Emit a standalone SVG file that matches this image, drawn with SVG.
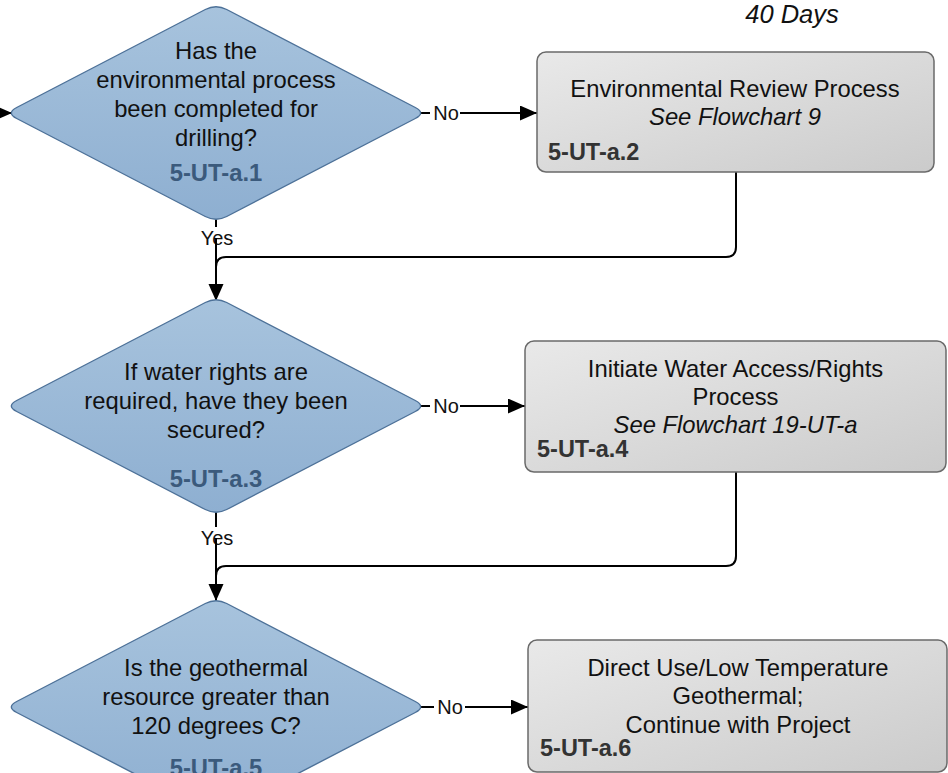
<svg xmlns="http://www.w3.org/2000/svg" width="948" height="773" viewBox="0 0 948 773">
<style>
text{font-family:"Liberation Sans",Arial,sans-serif}
.dt{font-size:23.8px;fill:#111;text-anchor:middle}
.did{font-size:23.8px;font-weight:bold;fill:#3b5a7c;text-anchor:middle}
.bt{font-size:23.8px;fill:#111;text-anchor:middle}
.bi{font-style:italic}
.bid{font-size:23.5px;font-weight:bold;fill:#333}
.lbl{font-size:20px;fill:#111;text-anchor:middle}
.dia{fill:url(#dg);stroke:#4d7198;stroke-width:1.4}
.box{fill:url(#bg);stroke:#6a6a6a;stroke-width:1.5}
.con{fill:none;stroke:#000;stroke-width:2}
</style>
<defs>
<linearGradient id="dg" x1="0" y1="0" x2="0" y2="1">
<stop offset="0" stop-color="#a7c3dd"/>
<stop offset="1" stop-color="#8eafd1"/>
</linearGradient>
<linearGradient id="bg" x1="0" y1="0" x2="1" y2="1">
<stop offset="0" stop-color="#e9e9e9"/>
<stop offset="1" stop-color="#cbcbcb"/>
</linearGradient>
<path id="dshape" d="M-199.3,-5.5 L-10.7,-103.5 Q0,-109 10.7,-103.5 L199.3,-5.5 Q210,0 199.3,5.5 L10.7,103.5 Q0,109 -10.7,103.5 L-199.3,5.5 Q-210,0 -199.3,-5.5 Z"/>
<marker id="ah" markerUnits="userSpaceOnUse" markerWidth="20" markerHeight="16" refX="17" refY="7.5" orient="auto">
<path d="M0,0 L17,7.5 L0,15 Z" fill="#000"/>
</marker>
</defs>

<text x="792" y="23" style="font-size:25.5px;font-style:italic;fill:#111;text-anchor:middle">40 Days</text>

<g id="connectors">
<path class="con" d="M0,113 H12" marker-end="url(#ah)"/>
<path class="con" d="M421,113 H430"/>
<path class="con" d="M460,113 H537" marker-end="url(#ah)"/>
<text class="lbl" x="446" y="120">No</text>
<path class="con" d="M216,219 V227"/>
<text class="lbl" x="217" y="245">Yes</text>
<path class="con" d="M216,238 V301" marker-end="url(#ah)"/>
<path class="con" d="M736,172 V247 Q736,257 726,257 H226 Q216,257 216,267"/>

<path class="con" d="M421,406 H430"/>
<path class="con" d="M460,406 H525" marker-end="url(#ah)"/>
<text class="lbl" x="446" y="413">No</text>
<path class="con" d="M216,511 V527"/>
<text class="lbl" x="217" y="545">Yes</text>
<path class="con" d="M216,538 V601" marker-end="url(#ah)"/>
<path class="con" d="M736,472 V556 Q736,566 726,566 H226 Q216,566 216,576"/>

<path class="con" d="M421,707 H434"/>
<path class="con" d="M465,707 H528" marker-end="url(#ah)"/>
<text class="lbl" x="450" y="714">No</text>
</g>

<g id="d1">
<use href="#dshape" x="216" y="113" class="dia"/>
<text class="dt" x="216" y="59">Has the</text>
<text class="dt" x="216" y="88">environmental process</text>
<text class="dt" x="216" y="117">been completed for</text>
<text class="dt" x="216" y="146">drilling?</text>
<text class="did" x="216" y="181">5-UT-a.1</text>
</g>

<g id="b2">
<rect class="box" x="537" y="52" width="397" height="120" rx="9"/>
<text class="bt" x="735" y="97">Environmental Review Process</text>
<text class="bt bi" x="735" y="125">See Flowchart 9</text>
<text class="bid" x="548" y="160">5-UT-a.2</text>
</g>

<g id="d3">
<use href="#dshape" x="216" y="406" class="dia"/>
<text class="dt" x="216" y="380">If water rights are</text>
<text class="dt" x="216" y="409">required, have they been</text>
<text class="dt" x="216" y="438">secured?</text>
<text class="did" x="216" y="487">5-UT-a.3</text>
</g>

<g id="b4">
<rect class="box" x="525" y="341" width="421" height="131" rx="9"/>
<text class="bt" x="735.5" y="377">Initiate Water Access/Rights</text>
<text class="bt" x="735.5" y="405">Process</text>
<text class="bt bi" x="735.5" y="433">See Flowchart 19-UT-a</text>
<text class="bid" x="537" y="457">5-UT-a.4</text>
</g>

<g id="d5">
<use href="#dshape" x="216" y="707" class="dia"/>
<text class="dt" x="216" y="676">Is the geothermal</text>
<text class="dt" x="216" y="705">resource greater than</text>
<text class="dt" x="216" y="734">120 degrees C?</text>
<text class="did" x="216" y="776">5-UT-a.5</text>
</g>

<g id="b6">
<rect class="box" x="528" y="640" width="419" height="132" rx="9"/>
<text class="bt" x="738" y="676">Direct Use/Low Temperature</text>
<text class="bt" x="738" y="704">Geothermal;</text>
<text class="bt" x="738" y="733">Continue with Project</text>
<text class="bid" x="540" y="756">5-UT-a.6</text>
</g>
</svg>
